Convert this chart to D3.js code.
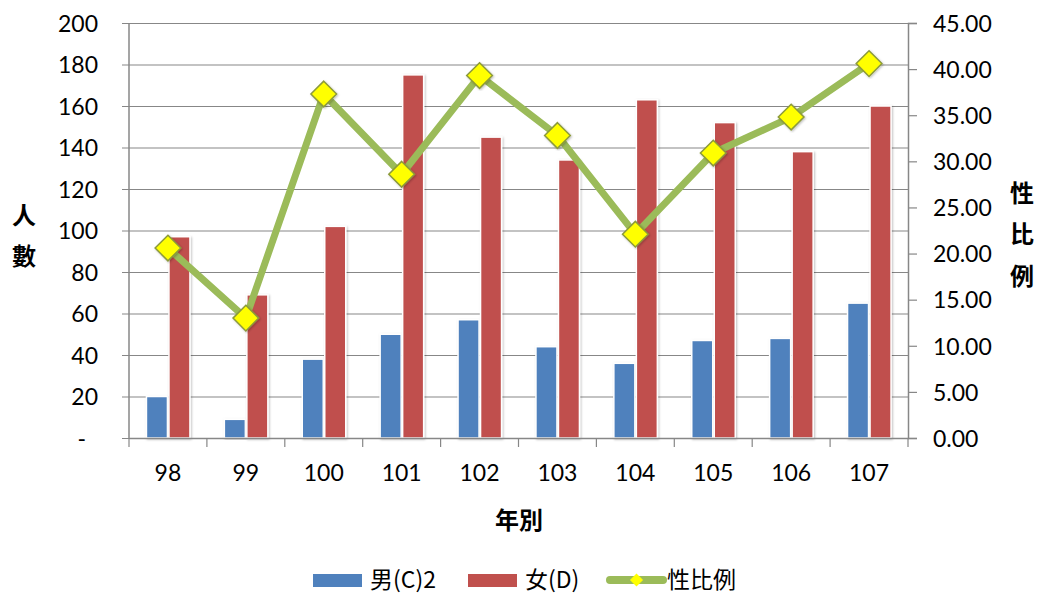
<!DOCTYPE html>
<html>
<head>
<meta charset="utf-8">
<script src="https://cdn.jsdelivr.net/npm/d3@7"></script>
<style>
  body { margin: 0; background: #fff; }
  text { font-family: Lato, "Noto Sans CJK TC", sans-serif; fill: #000; }
  .cjk { font-family: "Noto Sans CJK TC", sans-serif; }
</style>
</head>
<body>
<div id="chart"></div>
<script>
const years = ['98', '99', '100', '101', '102', '103', '104', '105', '106', '107'];
const male = [20, 9, 38, 50, 57, 44, 36, 47, 48, 65];
const female = [97, 69, 102, 175, 145, 134, 163, 152, 138, 160];
const ratio = [20.6, 13.0, 37.3, 28.6, 39.3, 32.8, 22.1, 30.9, 34.8, 40.6];
const leftTicks = [0, 20, 40, 60, 80, 100, 120, 140, 160, 180, 200];
const rightTicks = [0, 5, 10, 15, 20, 25, 30, 35, 40, 45];
const seriesNames = ['男(C)2', '女(D)', '性比例'];
const colors = { male: '#4F81BD', female: '#C0504D', line: '#9BBB59', marker: '#FFFF00' };

const W = 1042, H = 594;
const margin = { top: 23, right: 134, bottom: 156, left: 129 };
const width = W - margin.left - margin.right;
const height = H - margin.top - margin.bottom;

const svg = d3.select('#chart').append('svg')
  .attr('width', W)
  .attr('height', H);

const defs = svg.append('defs');
const shadow = defs.append('filter').attr('id', 'shadow')
  .attr('x', '-30%').attr('y', '-10%').attr('width', '160%').attr('height', '120%');
shadow.append('feDropShadow')
  .attr('dx', 1).attr('dy', 1).attr('stdDeviation', 1.2)
  .attr('flood-color', '#000').attr('flood-opacity', 0.25);

const g = svg.append('g')
  .attr('transform', `translate(${margin.left}, ${margin.top})`);

const x = d3.scaleBand().domain(years).range([0, width]);
const yLeft = d3.scaleLinear().domain([0, 200]).range([height, 0]);
const yRight = d3.scaleLinear().domain([0, 45]).range([height, 0]);

// grid lines with left ticks
const leftAxis = d3.axisLeft(yLeft)
  .tickValues(leftTicks)
  .tickSize(-width - 7)
  .tickPadding(31)
  .tickFormat(d => (d === 0 ? '-' : d));

g.append('g')
  .attr('transform', 'translate(-7, 0)')
  .call(leftAxis)
  .call(s => s.select('.domain').remove())
  .call(s => s.selectAll('line').attr('stroke', '#878787').attr('stroke-width', 1.2).attr('x1', 0).attr('x2', width + 7))
  .call(s => s.selectAll('text').attr('font-size', 23).attr('dx', d => (d === 0 ? -5 : 7)).attr('dy', '0.36em'));

// left axis line
g.append('line')
  .attr('x1', 0).attr('x2', 0).attr('y1', 0).attr('y2', height)
  .attr('stroke', '#878787').attr('stroke-width', 1.5);

// right axis
const rightAxis = d3.axisRight(yRight)
  .tickValues(rightTicks)
  .tickSize(9)
  .tickPadding(16)
  .tickFormat(d3.format('.2f'));

g.append('g')
  .attr('transform', `translate(${width}, 0)`)
  .call(rightAxis)
  .call(s => s.select('.domain').attr('stroke', '#878787').attr('stroke-width', 1.5))
  .call(s => s.selectAll('line').attr('stroke', '#878787').attr('stroke-width', 1.2))
  .call(s => s.selectAll('text').attr('font-size', 23).attr('dy', '0.36em'));

// bars
const barW = 21;
const bars = [
  { values: male, color: colors.male, offset: -barW - 0.5 },
  { values: female, color: colors.female, offset: 1 },
];
bars.forEach((b) => {
  g.append('g').selectAll('rect')
    .data(years)
    .enter()
    .append('rect')
    .attr('x', d => x(d) + x.bandwidth() / 2 + b.offset)
    .attr('y', (d, i) => yLeft(b.values[i]))
    .attr('width', barW)
    .attr('height', (d, i) => height - yLeft(b.values[i]))
    .attr('fill', b.color)
    .attr('stroke', '#fff')
    .attr('stroke-width', 1.5)
    .attr('filter', 'url(#shadow)');
});

// x axis
const xAxis = d3.axisBottom(x).tickSize(0);
g.append('g')
  .attr('transform', `translate(0, ${height})`)
  .call(xAxis)
  .call(s => s.select('.domain').attr('stroke', '#878787').attr('stroke-width', 1.5))
  .call(s => s.selectAll('text').attr('font-size', 23).attr('y', 43).attr('dy', 0));

// category separators below axis
g.append('g').selectAll('line')
  .data(years.concat(['end']))
  .enter()
  .append('line')
  .attr('x1', (d, i) => i * x.step())
  .attr('x2', (d, i) => i * x.step())
  .attr('y1', height)
  .attr('y2', height + 9)
  .attr('stroke', '#878787')
  .attr('stroke-width', 1.2);

// ratio line
const line = d3.line()
  .x((d, i) => x(years[i]) + x.bandwidth() / 2)
  .y(d => yRight(d));

g.append('path')
  .datum(ratio)
  .attr('fill', 'none')
  .attr('stroke', colors.line)
  .attr('stroke-width', 7)
  .attr('stroke-linejoin', 'round')
  .attr('d', line);

const diamond = d3.symbol().type(d3.symbolDiamond2).size(420);
g.append('g').selectAll('path')
  .data(ratio)
  .enter()
  .append('path')
  .attr('d', diamond)
  .attr('transform', (d, i) => `translate(${x(years[i]) + x.bandwidth() / 2}, ${yRight(d)})`)
  .attr('fill', colors.marker)
  .attr('stroke', '#8C9A3A')
  .attr('stroke-width', 1.5)
  .attr('filter', 'url(#shadow)');

// axis titles
svg.append('g').selectAll('text')
  .data(['人', '數'])
  .enter()
  .append('text')
  .attr('class', 'cjk')
  .attr('x', 24)
  .attr('y', (d, i) => 215 + i * 41)
  .attr('text-anchor', 'middle')
  .attr('dy', '0.36em')
  .attr('font-size', 24)
  .attr('font-weight', 'bold')
  .text(d => d);

svg.append('g').selectAll('text')
  .data(['性', '比', '例'])
  .enter()
  .append('text')
  .attr('class', 'cjk')
  .attr('x', 1022)
  .attr('y', (d, i) => 193 + i * 41.5)
  .attr('text-anchor', 'middle')
  .attr('dy', '0.36em')
  .attr('font-size', 24)
  .attr('font-weight', 'bold')
  .text(d => d);

svg.append('text')
  .attr('class', 'cjk')
  .attr('x', 519)
  .attr('y', 520)
  .attr('text-anchor', 'middle')
  .attr('dy', '0.36em')
  .attr('font-size', 24)
  .attr('font-weight', 'bold')
  .text('年別');

// legend
const legend = svg.append('g').attr('transform', 'translate(0, 580)');
const legendItems = [
  { name: seriesNames[0], x: 313, type: 'bar', color: colors.male },
  { name: seriesNames[1], x: 468, type: 'bar', color: colors.female },
  { name: seriesNames[2], x: 607, type: 'line', color: colors.line },
];
const li = legend.selectAll('g')
  .data(legendItems)
  .enter()
  .append('g')
  .attr('transform', d => `translate(${d.x}, 0)`);

li.filter(d => d.type === 'bar').append('rect')
  .attr('x', 0).attr('y', -6)
  .attr('width', 49).attr('height', 13)
  .attr('fill', d => d.color);

li.filter(d => d.type === 'line').append('line')
  .attr('x1', 3).attr('x2', 56).attr('y1', 0).attr('y2', 0)
  .attr('stroke', d => d.color)
  .attr('stroke-width', 8)
  .attr('stroke-linecap', 'round');

li.filter(d => d.type === 'line').append('path')
  .attr('d', d3.symbol().type(d3.symbolDiamond2).size(110))
  .attr('transform', 'translate(29.5, 0)')
  .attr('fill', colors.marker);

li.append('text')
  .attr('class', 'cjk')
  .attr('x', d => (d.type === 'line' ? 60 : 57))
  .attr('y', 0)
  .attr('dy', '0.36em')
  .attr('font-size', 23)
  .text(d => d.name);
</script>
</body>
</html>
